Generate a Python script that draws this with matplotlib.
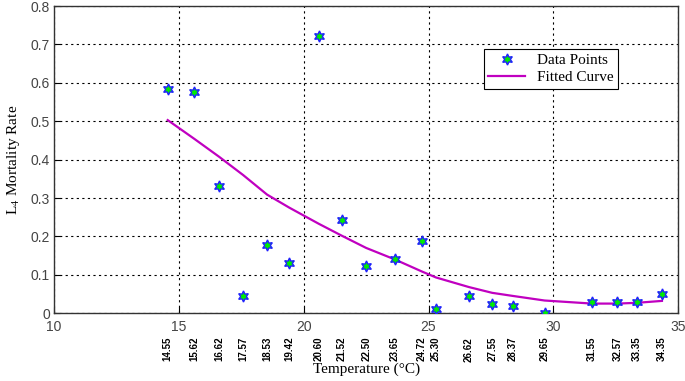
import numpy as np
import matplotlib.pyplot as plt

# Temperatures (°C) and L4 mortality rate
temps = [14.55, 15.62, 16.62, 17.57, 18.53, 19.42, 20.60, 21.52, 22.50, 23.65,
         24.72, 25.30, 26.62, 27.55, 28.37, 29.65, 31.55, 32.57, 33.35, 34.35]
mortality = [0.583, 0.575, 0.332, 0.046, 0.178, 0.130, 0.723, 0.242, 0.122, 0.140,
             0.188, 0.010, 0.045, 0.023, 0.019, 0.000, 0.030, 0.030, 0.030, 0.050]
fitted = [0.503, 0.454, 0.407, 0.360, 0.309, 0.275, 0.233, 0.202, 0.170, 0.140,
          0.109, 0.093, 0.068, 0.053, 0.045, 0.033, 0.025, 0.025, 0.027, 0.032]
temp_labels = ['%.2f' % t for t in temps]

plt.rcParams['mathtext.fontset'] = 'stix'

fig = plt.figure(figsize=(6.85, 3.81), dpi=100)
ax = fig.add_axes([0.079, 0.178, 0.911, 0.806])

ax.plot(temps, mortality, linestyle='none', marker=(6, 1, 0), markersize=8,
        markerfacecolor='#00ee00', markeredgecolor='#2020ff', markeredgewidth=1.0,
        label='Data Points', zorder=3)
ax.plot(temps, fitted, color='#c000c0', linewidth=1.6, label='Fitted Curve', zorder=2)

ax.set_xlim(10, 35)
ax.set_ylim(0, 0.8)
ax.set_xticks(np.arange(10, 36, 5))
ax.set_yticks(np.arange(0, 0.81, 0.1))
ax.set_yticklabels(['0', '0.1', '0.2', '0.3', '0.4', '0.5', '0.6', '0.7', '0.8'])
ax.tick_params(axis='both', which='major', direction='in', length=4,
               labelsize=10, labelcolor='#444444', pad=3)
ax.tick_params(axis='x', which='major', pad=5)

# temperature labels under the axis, kept just below the major labels
ax.set_xticks(temps, minor=True)
ax.set_xticklabels(temp_labels, minor=True, rotation=90, fontsize=7,
                   fontweight='bold', family='Liberation Sans')
ax.tick_params(axis='x', which='minor', length=0, pad=17)
for lab in ax.get_xticklabels() + ax.get_yticklabels():
    lab.set_family('Liberation Sans')

ax.grid(True, which='major', color='black', linestyle=(0, (2, 3)), linewidth=0.8)
for sp in ax.spines.values():
    sp.set_color('#333333')
    sp.set_linewidth(1.0)

ax.set_xlabel('Temperature (°C)', family='Liberation Serif', fontsize=11, labelpad=1)
ax.set_ylabel('L$_{4}$ Mortality Rate', family='Liberation Serif', fontsize=11, labelpad=6)

leg = ax.legend(loc='upper left', bbox_to_anchor=(0.676, 0.885), fancybox=False,
                prop={'family': 'Liberation Serif', 'size': 11}, borderpad=0.3,
                handlelength=2.4, labelspacing=0.2, framealpha=1)
leg.get_frame().set_edgecolor('black')
leg.get_frame().set_linewidth(0.8)

fig.savefig('out.png', dpi=100)
